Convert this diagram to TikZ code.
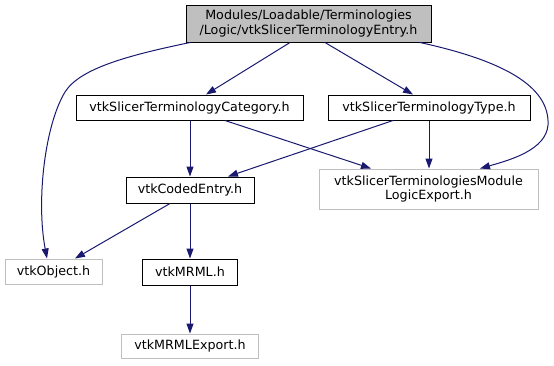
\documentclass[tikz,border=0pt]{standalone}
\usepackage{fontspec}
\setmainfont{DejaVu Sans}
\usepackage{xcolor}
\usepackage{tikz}
\usetikzlibrary{
  arrows.meta,
  positioning,
}
\definecolor{edgeblue}{HTML}{191970}
\definecolor{grey75}{HTML}{BFBFBF}
\tikzset{
  >={Triangle[length=10pt, width=7pt]},
  font=\fontsize{12.7}{14.3}\selectfont,
  header/.style={
    draw=black,
    fill=white,
    line width=1pt,
    inner sep=0pt,
    align=center,
  },
  mainhdr/.style={header, fill=grey75},
  exthdr/.style={header, draw=grey75},
  incl/.style={->, draw=edgeblue, line width=1pt},
}

\begin{document}
\begin{tikzpicture}[x=1pt,y=-1pt]
  \useasboundingbox (0,0) rectangle (554,365);
  \fill[white] (0,0) rectangle (554,365);

  % headers, centred at their box midpoints
  \node[mainhdr, minimum width=245pt, minimum height=37pt] (entry) at (308.5,23.5)
    {Modules/Loadable/Terminologies\\/Logic/vtkSlicerTerminologyEntry.h};
  \node[header, minimum width=227pt, minimum height=25pt] (category) at (189.5,107.5)
    {vtkSlicerTerminologyCategory.h};
  \node[header, minimum width=202pt, minimum height=25pt] (type) at (429,107.5)
    {vtkSlicerTerminologyType.h};
  \node[header, minimum width=128pt, minimum height=26pt] (coded) at (190,190)
    {vtkCodedEntry.h};
  \node[exthdr, minimum width=219pt, minimum height=40pt] (logicexport) at (428.5,189)
    {vtkSlicerTerminologiesModule\\LogicExport.h};
  \node[exthdr, minimum width=97pt, minimum height=25pt] (object) at (53.5,271.5)
    {vtkObject.h};
  \node[header, minimum width=95pt, minimum height=26pt] (mrml) at (190,272)
    {vtkMRML.h};
  \node[exthdr, minimum width=137pt, minimum height=24pt] (mrmlexport) at (190,346)
    {vtkMRMLExport.h};

  % include edges
  \draw[incl] ([xshift=-18.5pt]entry.south) -- ([xshift=16.5pt]category.north);
  \draw[incl] ([xshift=16.5pt]entry.south) -- ([xshift=-16pt]type.north);
  \draw[incl] ([xshift=-118.5pt]entry.south)
    .. controls (130,55) and (80,68) .. (65,92)
    .. controls (45,125) and (36,200) .. ([xshift=-6.5pt]object.north);
  \draw[incl] ([xshift=111.5pt]entry.south)
    .. controls (500,60) and (550,85) .. (548,125)
    .. controls (546,150) and (510,160) .. ([xshift=51.5pt]logicexport.north);
  \draw[incl] ([xshift=0.5pt]category.south) -- (coded.north);
  \draw[incl] ([xshift=35.5pt]category.south) -- ([xshift=-57.5pt]logicexport.north);
  \draw[incl] ([xshift=-36pt]type.south) -- ([xshift=38pt]coded.north);
  \draw[incl] (type.south) -- ([xshift=0.5pt]logicexport.north);
  \draw[incl] ([xshift=-20pt]coded.south) -- ([xshift=21.5pt]object.north);
  \draw[incl] (coded.south) -- (mrml.north);
  \draw[incl] (mrml.south) -- (mrmlexport.north);
\end{tikzpicture}
\end{document}
